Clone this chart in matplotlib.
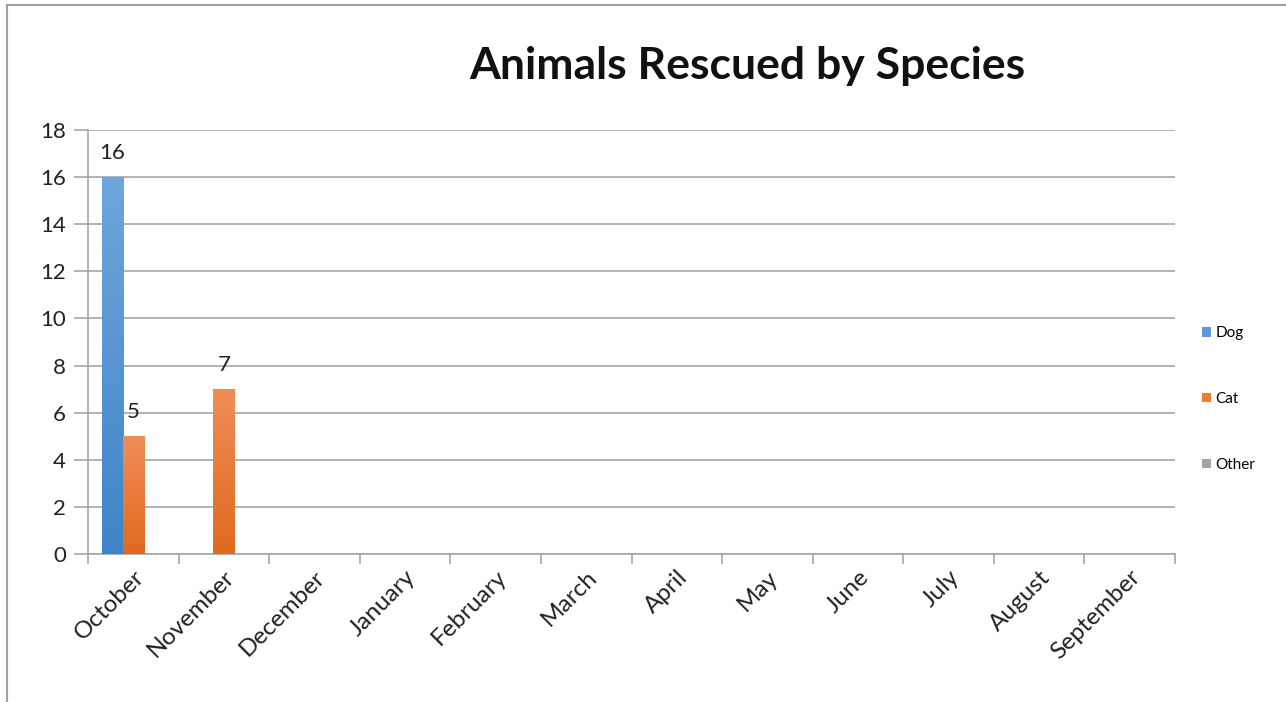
import numpy as np
import matplotlib
matplotlib.use("Agg")
import matplotlib.pyplot as plt
from matplotlib.colors import LinearSegmentedColormap
from matplotlib.patches import Patch
from matplotlib.lines import Line2D

plt.rcParams['font.family'] = ['Lato', 'DejaVu Sans']

months = ["October", "November", "December", "January", "February", "March",
          "April", "May", "June", "July", "August", "September"]
dog = [16, 0, 0, 0, 0, 0, 0, 0, 0, 0, 0, 0]
cat = [5, 7, 0, 0, 0, 0, 0, 0, 0, 0, 0, 0]
other = [0, 0, 0, 0, 0, 0, 0, 0, 0, 0, 0, 0]
series_names = ["Dog", "Cat", "Other"]
yticks = [0, 2, 4, 6, 8, 10, 12, 14, 16, 18]

colors = ["#5b9bd5", "#ed7d31", "#a5a5a5"]
grads = [("#3f84c8", "#6ea6dc"), ("#e06a1e", "#f08d57"), ("#909090", "#b8b8b8")]

fig = plt.figure(figsize=(12.86, 7.02), dpi=100)
ax = fig.add_axes([88 / 1286, 1 - 554 / 702, (1175 - 88) / 1286, (554 - 130) / 702])

x = np.arange(len(months))
w = 0.232
offsets = [-w, 0, w]

for vals, off, c, (lo, hi) in zip([dog, cat, other], offsets, colors, grads):
    bars = ax.bar(x + off, vals, width=w, color=c, zorder=3)
    cmap = LinearSegmentedColormap.from_list("g", [lo, hi])
    for b, v in zip(bars, vals):
        if v <= 0:
            continue
        grad = np.linspace(0, 1, 100).reshape(-1, 1)
        im = ax.imshow(grad, cmap=cmap, origin="lower", aspect="auto",
                       extent=[b.get_x(), b.get_x() + b.get_width(), 0, v], zorder=4)
        im.set_clip_path(b)
        ax.text(b.get_x() + b.get_width() / 2, v + 0.6, str(v), ha="center", va="bottom",
                fontsize=16, color="#222222", zorder=5)

ax.set_xlim(-0.5, len(months) - 0.5)
ax.set_ylim(0, 18)
ax.set_yticks(yticks)
ax.set_yticklabels([str(t) for t in yticks], fontsize=16, color="#222222")
ax.yaxis.grid(True, color="#a6a6a6", linewidth=1.2, zorder=0)
ax.set_axisbelow(True)

# category ticks at boundaries, labels at centres
ax.set_xticks(np.arange(len(months) + 1) - 0.5)
ax.set_xticklabels([])
ax.set_xticks(x, minor=True)
ax.set_xticklabels(months, minor=True, rotation=45, ha="right", rotation_mode="anchor",
                   fontsize=17.5, color="#222222")
ax.tick_params(axis="x", which="major", length=7, color="#a6a6a6", width=1.2)
ax.tick_params(axis="x", which="minor", length=0, pad=9)
ax.tick_params(axis="y", length=10, color="#a6a6a6", width=1.2, pad=6)

for s in ["top", "right"]:
    ax.spines[s].set_visible(False)
for s in ["left", "bottom"]:
    ax.spines[s].set_color("#a6a6a6")
    ax.spines[s].set_linewidth(1.2)

fig.text(747 / 1286, 1 - 66 / 702, "Animals Rescued by Species", ha="center", va="center",
         fontsize=32, fontweight="bold", color="#111111")

handles = [Patch(facecolor=c, edgecolor="none") for c in colors]
fig.legend(handles, series_names, loc="center left", bbox_to_anchor=(1188 / 1286, 1 - 399 / 702),
           frameon=False, fontsize=11, handlelength=0.6, handleheight=0.6, handletextpad=0.3,
           labelspacing=3.4)

# outer chart border (left and top only visible)
fig.add_artist(Line2D([7 / 1286, 7 / 1286], [0, 1 - 5 / 702], color="#a0a0a0", lw=1.5))
fig.add_artist(Line2D([7 / 1286, 1], [1 - 5 / 702, 1 - 5 / 702], color="#a0a0a0", lw=1.5))

fig.savefig("out.png", dpi=100)
